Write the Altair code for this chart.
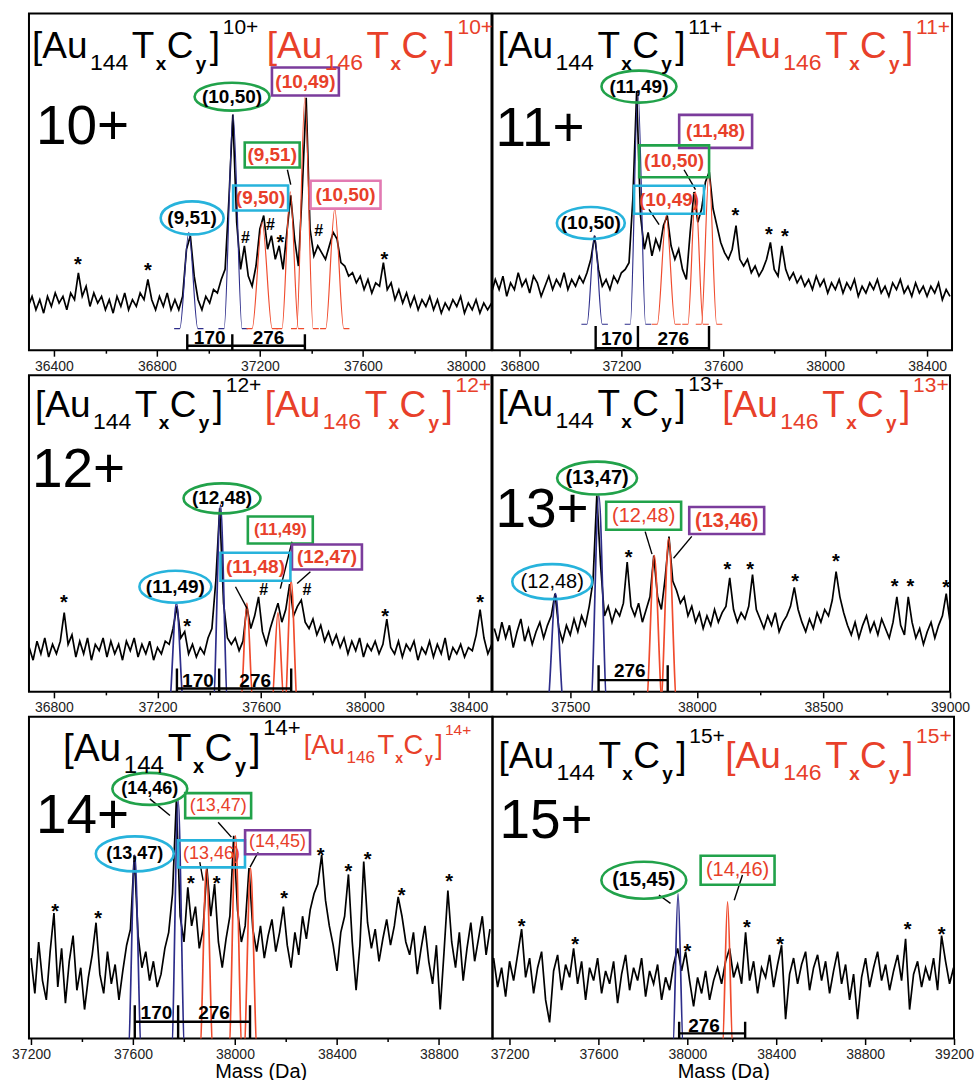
import altair as alt
import pandas as pd

FONT = "Liberation Sans"
K = "#000000"
R = "#e8402a"
BLUE_FIT = "#2d2d8a"
RED_FIT = "#f04b2d"
CYAN = "#27b3dc"
GREEN = "#21a24a"
PURPLE = "#7b3c9c"
PINK = "#e27ab2"

# ---------------- spectra (intensity in % of panel height) ----------------
P1_START, P1_STEP = 36300, 15
P1_TRACE = [13,16,12,15,11,16,13,17,14,16, 12,17,15,23,16,19,13,17,14,16,
            12,15,11,16,13,17,12,15,13,17, 15,21,15,12,16,13,17,12,15,12,
            16,30,34,22,15,12,16,14,18,17, 21,24,45,70,38,24,31,22,19,25,
            36,40,30,34,27,31,24,35,46,33, 25,48,75,36,28,31,29,27,31,35,
            33,26,25,22,23,20,22,18,21,17, 20,19,26,18,20,15,18,14,17,13,
            16,12,15,13,16,12,15,11,14,12, 15,13,16,11,14,12,15,11,14,12, 14]
P1_BLUE = [(36924, 35, 35), (37096, 70, 35)]
P1_RED = [(37209, 38, 39), (37318, 47, 32), (37375, 75, 32), (37491, 42, 35)]

P2_START, P2_STEP = 36690, 15
P2_TRACE = [17,21,18,22,16,20,18,23,19,21, 17,22,20,16,19,22,18,21,19,23,
            18,21,19,22,20,23,27,34,24,19, 21,18,22,20,23,24,26,45,77,40,
            30,35,28,33,30,37,40,31,27,30, 24,21,35,47,38,42,50,53,42,37,
            32,29,27,30,37,27,25,27,23,25, 22,24,27,32,24,22,31,24,21,23,
            20,22,19,21,18,22,19,21,17,20, 18,21,17,20,18,21,16,19,17,20,
            18,21,17,19,16,20,18,21,17,19, 16,20,17,19,16,19,17,20,15,18, 16]
P2_BLUE = [(37095, 34, 30), (37265, 77, 30)]
P2_RED = [(37376, 40, 35), (37491, 47, 30), (37544, 53, 30)]

P3_START, P3_STEP = 36705, 15
P3_TRACE = [14,10,16,12,17,11,15,12,16,25, 15,18,11,16,12,17,10,15,13,17,
            11,16,12,15,10,16,13,17,11,15, 12,16,10,14,12,16,15,20,27,17,
            19,12,15,11,14,12,17,20,35,58, 28,17,15,17,13,16,27,20,24,30,
            19,15,20,24,28,22,26,34,24,27, 29,22,20,23,18,21,16,19,15,18,
            14,17,12,16,13,17,11,15,13,16, 12,15,23,14,12,16,11,15,13,16,
            10,14,12,16,11,15,12,17,10,14, 12,15,11,14,13,18,26,17,12,15]
P3_BLUE = [(37273, 28, 28), (37443, 59, 28)]
P3_RED = [(37545, 28, 24), (37665, 25, 24), (37716, 35, 24)]

P4_START, P4_STEP = 37200, 15
P4_TRACE = [20,16,22,17,21,14,19,23,16,20, 15,19,22,17,21,24,31,20,16,21,
            18,23,19,24,21,27,35,62,40,24, 27,22,26,24,28,41,27,24,28,22,
            26,30,43,30,26,36,49,35,32,28, 30,24,27,22,25,20,24,21,26,22,
            25,27,36,26,22,25,23,27,37,26, 23,20,24,21,25,19,22,24,27,33,
            26,22,19,23,20,25,22,26,24,29, 38,30,25,21,18,22,17,21,24,19,
            22,18,23,20,17,22,30,21,18,30, 22,17,20,15,19,22,17,21,24,31, 22]
P4_BLUE = [(37442, 31, 32), (37613, 62, 32)]
P4_RED = [(37832, 43, 32), (37889, 48.5, 32)]

P5_START, P5_STEP = 37200, 15
P5_TRACE = [25,14,30,18,12,27,39,16,28,11, 24,32,15,22,9,19,26,36,20,14,
            27,17,23,12,21,29,34,57,32,22, 27,18,24,16,20,28,33,45,74,38,
            30,47,35,41,28,34,53,38,48,30, 22,31,38,63,40,30,35,53,34,27,
            35,25,32,37,27,33,41,29,22,33, 26,38,31,40,45,48,57,43,35,29,
            21,33,38,51,30,15,29,55,36,28, 34,24,31,37,29,35,44,38,30,26,
            33,20,28,35,24,17,29,9,27,46, 30,22,33,18,28,36,24,31,38,26, 34]
P5_BLUE = [(37607, 57, 26), (37777, 74, 26)]
P5_RED = [(37888, 53, 26), (38002, 63, 26), (38061, 53, 26)]

P6_START, P6_STEP = 37110, 18
P6_TRACE = [20,25,16,22,13,24,18,26,34,19, 25,14,22,27,12,5,21,26,15,23,
            19,28,17,24,12,22,18,25,14,21, 17,24,11,20,26,15,22,18,25,13,
            21,17,23,12,19,15,23,28,21,27, 18,10,19,14,21,12,18,22,17,24,
            28,19,23,17,33,18,24,14,22,19, 26,16,23,29,6,20,25,17,23,27,
            15,22,26,18,24,14,21,27,17,23, 12,20,6,19,25,16,22,27,18,23,
            15,21,26,18,31,9,20,24,16,22, 18,25,15,32,24,17,22]
P6_BLUE = [(37958, 45, 24)]
P6_RED = [(38181, 42.5, 24)]

# ---------------- annotations ----------------
# (mass, intensity, text, text colour, bold, font size, frame kind, frame colour, frame w, frame h)
P1_LABELS = [(36937, 39.3, "(9,51)", K, True, 19, "ellipse", CYAN, 63, 33),
             (37092, 75.3, "(10,50)", K, True, 19, "ellipse", GREEN, 75, 28),
             (37377, 79.8, "(10,49)", R, True, 19, "rect", PURPLE, 67, 28),
             (37248, 58.0, "(9,51)", R, True, 19, "rect", GREEN, 55, 25),
             (37203, 45.2, "(9,50)", R, True, 19, "rect", CYAN, 55, 25),
             (37533, 46.2, "(10,50)", R, True, 19, "rect", PINK, 70, 28)]
P2_LABELS = [(37080, 37.8, "(10,50)", K, True, 19, "ellipse", CYAN, 68, 32),
             (37269, 78.3, "(11,49)", K, True, 19, "ellipse", GREEN, 75, 32),
             (37570, 65.0, "(11,48)", R, True, 19, "rect", PURPLE, 73, 33),
             (37407, 56.1, "(10,50)", R, True, 19, "rect", GREEN, 70, 32),
             (37387, 44.7, "(10,49)", R, True, 19, "rect", CYAN, 70, 28)]
P3_LABELS = [(37269, 33.2, "(11,49)", K, True, 19, "ellipse", CYAN, 72, 32),
             (37449, 61.1, "(12,48)", K, True, 19, "ellipse", GREEN, 77, 30),
             (37674, 51.1, "(11,49)", R, True, 17, "rect", GREEN, 65, 27),
             (37854, 42.6, "(12,47)", R, True, 19, "rect", PURPLE, 70, 25),
             (37578, 39.5, "(11,48)", R, True, 19, "rect", CYAN, 70, 28)]
P4_LABELS = [(37429, 34.8, "(12,48)", K, False, 20, "ellipse", CYAN, 80, 35),
             (37606, 67.5, "(13,47)", K, True, 20, "ellipse", GREEN, 80, 33),
             (37790, 55.6, "(12,48)", R, False, 20, "rect", GREEN, 75, 28),
             (38118, 54.1, "(13,46)", R, True, 20, "rect", PURPLE, 75, 27)]
P5_LABELS = [(37666, 77.6, "(14,46)", K, True, 18, "ellipse", GREEN, 75, 32),
             (37607, 57.4, "(13,47)", K, True, 18, "ellipse", CYAN, 78, 35),
             (37934, 72.4, "(13,47)", R, False, 18, "rect", GREEN, 66, 25),
             (37908, 57.4, "(13,46)", R, False, 18, "rect", CYAN, 67, 27),
             (38167, 61.0, "(14,45)", R, False, 18, "rect", PURPLE, 65, 24)]
P6_LABELS = [(37804, 49.2, "(15,45)", K, True, 20, "ellipse", GREEN, 85, 37),
             (38226, 52.3, "(14,46)", R, False, 20, "rect", GREEN, 74, 29)]

P1_ARROWS = [(37307, 53.6, 37320, 49.2)]
P2_ARROWS = [(37446, 53.6, 37491, 47.7), (37308, 41.8, 37348, 37.3)]
P3_ARROWS = [(37719, 47.4, 37674, 32.6), (37790, 37.9, 37739, 34.2), (37501, 33.2, 37546, 26.3)]
P4_ARROWS = [(37796, 50.6, 37823, 43.5), (37980, 49.1, 37908, 42.2)]
P5_ARROWS = [(37666, 74.5, 37745, 69.3), (37934, 67.2, 37986, 62.6),
             (37862, 54.8, 37875, 49.1), (38091, 57.9, 38059, 53.3)]
P6_ARROWS = [(37872, 44.6, 37924, 42.0), (38248, 50.8, 38211, 43.0)]

P1_STARS = [(36493, 26.9), (36765, 25.0), (37280, 33.4), (37684, 28.4)]
P2_STARS = [(37648, 41.3), (37779, 35.8), (37842, 35.0)]
P3_STARS = [(36839, 29.5), (37314, 22.1), (38079, 25.3), (38445, 29.5)]
P4_STARS = [(37731, 43.8), (38121, 40.1), (38211, 40.1), (38388, 36.4), (38549, 42.7),
            (38781, 34.8), (38843, 34.8), (38985, 34.3)]
P5_STARS = [(37295, 40.8), (37463, 38.8), (37827, 49.6), (37928, 49.6), (38193, 45.0),
            (38336, 58.4), (38445, 53.3), (38520, 56.9), (38654, 46.0), (38840, 50.2)]
P6_STARS = [(37254, 36.3), (37495, 30.6), (38000, 28.5), (38268, 35.8), (38417, 30.6),
            (38991, 35.2), (39144, 33.7)]

P1_HASH = [(37144, 33.4), (37241, 37.3), (37429, 35.3)]
P3_HASH = [(37610, 32.1), (37777, 32.1)]

# scale bars: tick masses, tick low/high, bar level, labels
P1_BAR = ([36918, 37093, 37375], -2, 4.7, 1.3, [(37005, 1.8, "170"), (37234, 1.8, "276")])
P2_BAR = ([37099, 37265, 37544], -2, 7.2, 0.6, [(37182, 1.5, "170"), (37404, 1.5, "276")])
P3_BAR = ([37275, 37438, 37716], -2, 7.4, 1.05, [(37356, 1.6, "170"), (37577, 1.6, "276")])
P4_BAR = ([37612, 37885], -2, 8.4, 3.7, [(37735, 4.7, "276")])
P5_BAR = ([37607, 37777, 38059], -2, 10.3, 5.2, [(37692, 6.2, "170"), (37918, 6.2, "276")])
P6_BAR = ([37963, 38260], -2, 5.2, 1.6, [(38075, 2.1, "276")])

# header formula pieces
HDR_OFF = [0, 58, 100, 124, 135, 164, 178, 191]
HDR_DY = [0, 12, 0, 12, 0, 12, 0, -25]
HDR_FS = [37, 23, 37, 19, 37, 19, 37, 21]
HDR_BOLD = [False, False, False, True, False, True, False, False]

PANELS = [
    dict(lo=36303, hi=38100, W=463, H=337, start=P1_START, step=P1_STEP, trace=P1_TRACE,
         blue=P1_BLUE, red=P1_RED, fitbase=6.4, fitw=1.2, labels=P1_LABELS, arrows=P1_ARROWS,
         stars=P1_STARS, hashes=P1_HASH, bar=P1_BAR, charge="10",
         hk=(3, 45, 1.0), hr=(238, 45, 1.0), big=(7, 131),
         ticks=list(range(36400, 38001, 200)), mod=400, title=None),
    dict(lo=36694, hi=38498, W=460, H=337, start=P2_START, step=P2_STEP, trace=P2_TRACE,
         blue=P2_BLUE, red=P2_RED, fitbase=7.7, fitw=1.2, labels=P2_LABELS, arrows=P2_ARROWS,
         stars=P2_STARS, hashes=[], bar=P2_BAR, charge="11",
         hk=(5, 45, 1.0), hr=(233, 45, 1.0), big=(3, 133),
         ticks=list(range(36800, 38401, 200)), mod=400, title=None),
    dict(lo=36704, hi=38489, W=463, H=317, start=P3_START, step=P3_STEP, trace=P3_TRACE,
         blue=P3_BLUE, red=P3_RED, fitbase=-4, fitw=1.7, labels=P3_LABELS, arrows=P3_ARROWS,
         stars=P3_STARS, hashes=P3_HASH, bar=P3_BAR, charge="12",
         hk=(6, 42, 1.0), hr=(236, 42, 1.0), big=(3, 112),
         ticks=list(range(36800, 38401, 200)), mod=400, title=None),
    dict(lo=37193, hi=39000, W=458, H=317, start=P4_START, step=P4_STEP, trace=P4_TRACE,
         blue=P4_BLUE, red=P4_RED, fitbase=-4, fitw=1.7, labels=P4_LABELS, arrows=P4_ARROWS,
         stars=P4_STARS, hashes=[], bar=P4_BAR, charge="13",
         hk=(5, 41, 1.0), hr=(230, 42, 1.0), big=(3, 152),
         ticks=list(range(37250, 39001, 250)), mod=500, title=None),
    dict(lo=37192, hi=39010, W=464, H=322, start=P5_START, step=P5_STEP, trace=P5_TRACE,
         blue=P5_BLUE, red=P5_RED, fitbase=-4, fitw=1.7, labels=P5_LABELS, arrows=P5_ARROWS,
         stars=P5_STARS, hashes=[], bar=P5_BAR, charge="14",
         hk=(34, 44, 1.05), hr=(275, 37, 0.74), big=(7, 116),
         ticks=list(range(37200, 38801, 200)), mod=400, title="Mass (Da)"),
    dict(lo=37123, hi=39200, W=462, H=322, start=P6_START, step=P6_STEP, trace=P6_TRACE,
         blue=P6_BLUE, red=P6_RED, fitbase=-4, fitw=1.7, labels=P6_LABELS, arrows=P6_ARROWS,
         stars=P6_STARS, hashes=[], bar=P6_BAR, charge="15",
         hk=(6, 51, 1.0), hr=(233, 51, 1.0), big=(7, 121),
         ticks=list(range(37200, 39201, 200)), mod=400, title="Mass (Da)"),
]


def build_panel(P):
    lo, hi, W, H = P["lo"], P["hi"], P["W"], P["H"]

    def to_m(px):
        return lo + px / W * (hi - lo)

    def to_v(py):
        return 100 - py / H * 100

    xs = alt.Scale(domain=[lo, hi], nice=False, zero=False)
    ys = alt.Scale(domain=[0, 100], nice=False, zero=False)
    mod = P["mod"]
    ax = alt.Axis(values=P["ticks"], format="d",
                  labelExpr=f"datum.value % {mod} === 0 ? datum.label : ''",
                  tickSize={"condition": {"test": f"datum.value % {mod} === 0", "value": 6}, "value": 3},
                  labelOverlap=False, labelFlush=False)
    X = alt.X("m:Q", scale=xs, axis=ax, title=P["title"])
    Y = alt.Y("v:Q", scale=ys, axis=None)
    layers = []

    tr = pd.DataFrame({"m": [P["start"] + i * P["step"] for i in range(len(P["trace"]))],
                       "v": P["trace"]})
    layers.append(alt.Chart(tr).mark_line(color="black", strokeWidth=1.7, clip=True)
                  .encode(x=X, y=Y))

    rows = []
    b = P["fitbase"]
    for kind, lst, col in (("b", P["blue"], BLUE_FIT), ("r", P["red"], RED_FIT)):
        for k, (c, top, hw) in enumerate(lst):
            fid = f"{kind}{k}"
            for mm, vv in ((c - hw - 22, b), (c - hw, b), (c, top), (c + hw, b), (c + hw + 22, b)):
                rows.append(dict(m=mm, v=vv, fid=fid, col=col))
    layers.append(alt.Chart(pd.DataFrame(rows))
                  .mark_line(interpolate="monotone", strokeWidth=P["fitw"], clip=True)
                  .encode(x=X, y=Y, detail="fid:N", color=alt.Color("col:N", scale=None)))

    ticks, ylo, yhi, ybar, blabels = P["bar"]
    rr = [dict(m=ticks[0], v=ybar, m2=ticks[-1], v2=ybar)]
    for t in ticks:
        rr.append(dict(m=t, v=ylo, m2=t, v2=yhi))
    layers.append(alt.Chart(pd.DataFrame(rr)).mark_rule(color="black", strokeWidth=2.4, clip=True)
                  .encode(x=X, y=Y, x2="m2:Q", y2="v2:Q"))
    bl = pd.DataFrame([dict(m=m, v=v, t=t) for m, v, t in blabels])
    layers.append(alt.Chart(bl).mark_text(font=FONT, fontSize=19, fontWeight="bold",
                                          align="center", baseline="alphabetic", color="black")
                  .encode(x=X, y=Y, text="t:N"))

    ar = pd.DataFrame([dict(m=a, v=b_, m2=c, v2=d) for a, b_, c, d in P["arrows"]])
    layers.append(alt.Chart(ar).mark_rule(color="black", strokeWidth=1.4)
                  .encode(x=X, y=Y, x2="m2:Q", y2="v2:Q"))

    lab = []
    for m, v, t, tc, bold, fs, kind, sc, w, h in P["labels"]:
        r = round(h / w, 3)
        if kind == "ellipse":
            shp = f"M -1 0 A 1 {r} 0 1 0 1 0 A 1 {r} 0 1 0 -1 0 Z"
        else:
            shp = f"M -1 -{r} L 1 -{r} L 1 {r} L -1 {r} Z"
        lab.append(dict(m=m, v=v, t=t, tc=tc, bold=bold, fs=fs, shp=shp, sc=sc, sz=w * w))
    lab = pd.DataFrame(lab)
    layers.append(alt.Chart(lab).mark_point(filled=False, strokeWidth=2.6, opacity=1)
                  .encode(x=X, y=Y, shape=alt.Shape("shp:N", scale=None),
                          size=alt.Size("sz:Q", scale=None), color=alt.Color("sc:N", scale=None)))
    for bold in (True, False):
        sub = lab[lab["bold"] == bold]
        if len(sub):
            layers.append(alt.Chart(sub).mark_text(font=FONT, fontWeight="bold" if bold else "normal",
                                                   align="center", baseline="middle")
                          .encode(x=X, y=Y, text="t:N", color=alt.Color("tc:N", scale=None),
                                  size=alt.Size("fs:Q", scale=None)))

    st = pd.DataFrame([dict(m=m, v=v, t="*") for m, v in P["stars"]])
    layers.append(alt.Chart(st).mark_text(font=FONT, fontSize=20, fontWeight="bold", color="black",
                                          align="center", baseline="alphabetic", dy=11)
                  .encode(x=X, y=Y, text="t:N"))
    if P["hashes"]:
        hs = pd.DataFrame([dict(m=m, v=v, t="#") for m, v in P["hashes"]])
        layers.append(alt.Chart(hs).mark_text(font=FONT, fontSize=16, fontWeight="bold", color="black",
                                              align="center", baseline="middle")
                      .encode(x=X, y=Y, text="t:N"))

    hdr = []
    for (x0, base, s), num, col in ((P["hk"], "144", K), (P["hr"], "146", R)):
        texts = ["[Au", num, "T", "x", "C", "y", "]", P["charge"] + "+"]
        for t, off, dy, fs, bd in zip(texts, HDR_OFF, HDR_DY, HDR_FS, HDR_BOLD):
            hdr.append(dict(m=to_m(x0 + off * s), v=to_v(base + dy * s), t=t,
                            fs=fs * s, col=col, bold=bd))
    hdr = pd.DataFrame(hdr)
    for bold in (True, False):
        sub = hdr[hdr["bold"] == bold]
        layers.append(alt.Chart(sub).mark_text(font=FONT, fontWeight="bold" if bold else "normal",
                                               align="left", baseline="alphabetic")
                      .encode(x=X, y=Y, text="t:N", color=alt.Color("col:N", scale=None),
                              size=alt.Size("fs:Q", scale=None)))

    bx, by = P["big"]
    big = pd.DataFrame([dict(m=to_m(bx), v=to_v(by), t=P["charge"] + "+")])
    layers.append(alt.Chart(big).mark_text(font=FONT, fontSize=55, color="black",
                                           align="left", baseline="alphabetic")
                  .encode(x=X, y=Y, text="t:N"))

    return alt.layer(*layers).properties(width=W, height=H)


charts = [build_panel(P) for P in PANELS]
chart = (alt.concat(*charts, columns=2, spacing={"row": 25, "column": 0},
                    bounds="flush", align="each")
         .properties(padding={"left": 10, "top": 12, "right": 0, "bottom": 0}, background="white")
         .configure_view(stroke="black", strokeWidth=2)
         .configure_axis(labelFont=FONT, labelFontSize=14, labelColor="#222222", tickColor="black",
                         tickWidth=1.5, domain=False, grid=False, labelPadding=3,
                         titleFont=FONT, titleFontSize=20, titleFontWeight="normal",
                         titleColor="black", titlePadding=0))

chart.save("out.html", embed_options={"renderer": "svg", "actions": False})
